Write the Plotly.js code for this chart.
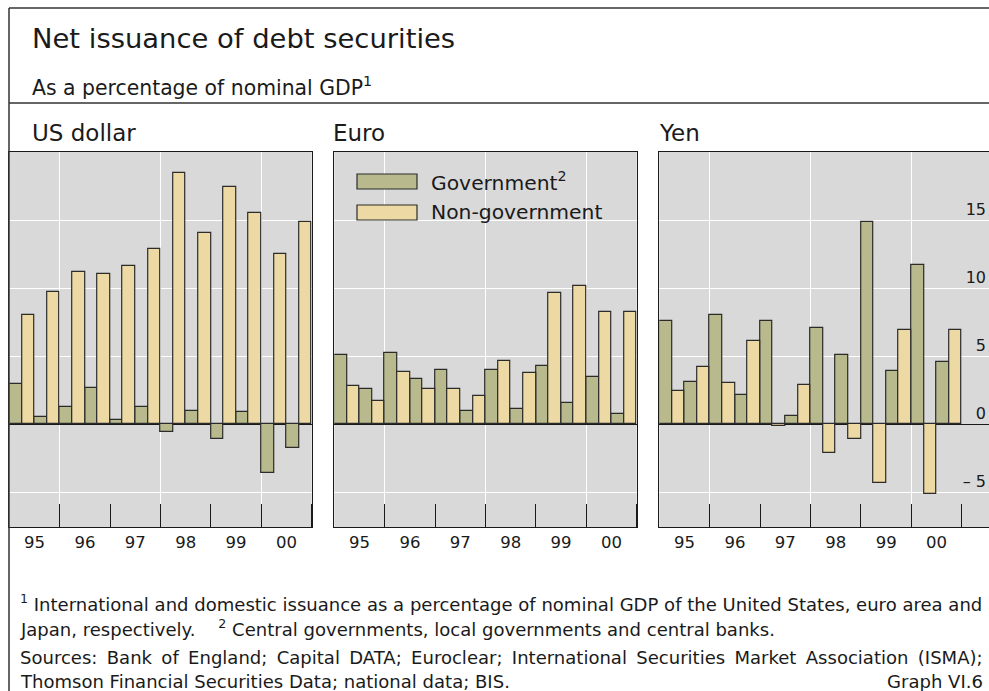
<!DOCTYPE html>
<html>
<head>
<meta charset="utf-8">
<script src="https://cdn.plot.ly/plotly-3.0.1.min.js"></script>
<style>
html, body { margin: 0; padding: 0; background: #ffffff; }
#chart { width: 989px; height: 691px; }
</style>
</head>
<body>
<div id="chart"></div>
<script>
// ---------- data ----------
const halfYears = ['1995 H1','1995 H2','1996 H1','1996 H2','1997 H1','1997 H2',
                   '1998 H1','1998 H2','1999 H1','1999 H2','2000 H1','2000 H2'];
const yearLabels = ['95','96','97','98','99','00'];

const usGov      = [2.94, 0.56, 1.25, 2.69, 0.34, 1.25, -0.54, 0.95, -1.08, 0.91, -3.55, -1.76];
const usNonGov   = [8.05, 9.72, 11.18, 11.01, 11.65, 12.90, 18.48, 14.02, 17.40, 15.49, 12.48, 14.86];
const euroGov    = [5.07, 2.62, 5.24, 3.30, 3.99, 1.00, 3.99, 1.15, 4.28, 1.54, 3.50, 0.76];
const euroNonGov = [2.81, 1.74, 3.82, 2.57, 2.62, 2.10, 4.63, 3.74, 9.64, 10.13, 8.25, 8.27];
const yenGov     = [7.56, 3.13, 8.05, 2.18, 7.56, 0.64, 7.05, 5.07, 14.86, 3.94, 11.72, 4.60];
const yenNonGov  = [2.47, 4.23, 3.06, 6.09, -0.15, 2.91, -2.10, -1.05, -4.28, 6.95, -5.09, 6.93];

const yTickVals = [-5, 0, 5, 10, 15];
const yTickText = ['\u2013 5', '0', '5', '10', '15'];

const seriesNames = ['Government<sup>2</sup>', 'Non-government'];
const panelTitles = ['US dollar', 'Euro', 'Yen'];

// ---------- styling ----------
const W = 989, H = 691;
const FONT = 'DejaVu Sans, Liberation Sans, Arial, sans-serif';
const GOV_COLOR = '#b8ba8e';
const NONGOV_COLOR = '#ecd9a3';
const BG = '#d9d9d9';
const INK = '#1a1a1a';

const px = v => v / W;          // x pixel -> paper
const py = v => 1 - v / H;      // y pixel -> paper

const xPos = halfYears.map((_, i) => i);
const yearCenters = yearLabels.map((_, i) => 2 * i + 0.5);
const yearBounds = yearLabels.map((_, i) => 2 * i + 1.5);
const gridBounds = yearBounds.filter((_, i) => i % 2 === 0);

const yRange = [-7.53, 20];
const xRange = [-0.5, 11.5];
const xRangeYen = [-0.5, 12.58];

const panels = [
  { gov: usGov,   non: usNonGov,   x: 'x',  y: 'y'  },
  { gov: euroGov, non: euroNonGov, x: 'x2', y: 'y2' },
  { gov: yenGov,  non: yenNonGov,  x: 'x3', y: 'y3' }
];

const traces = [];
panels.forEach(p => {
  [[p.gov, GOV_COLOR, seriesNames[0]], [p.non, NONGOV_COLOR, seriesNames[1]]].forEach(([vals, col, name]) => {
    traces.push({
      type: 'bar', x: xPos, y: vals, name: name, xaxis: p.x, yaxis: p.y,
      text: halfYears, hovertemplate: '%{text}: %{y:.1f}<extra></extra>', textposition: 'none',
      marker: { color: col, line: { color: '#2b2b2b', width: 1.2 } },
      showlegend: false
    });
  });
});
// empty helper traces for overlay axes (grid lines / right-hand labels)
[['x4','y'],['x5','y2'],['x6','y3'],['x3','y4']].forEach(([xa, ya]) => {
  traces.push({ type: 'scatter', x: [], y: [], xaxis: xa, yaxis: ya, showlegend: false, hoverinfo: 'skip' });
});

function mainX(domain, range) {
  return {
    domain: domain, range: range, fixedrange: true,
    tickmode: 'array', tickvals: yearCenters, ticktext: yearLabels,
    ticks: '', showgrid: false, zeroline: false,
    showline: true, mirror: true, linecolor: INK, linewidth: 1.2,
    tickfont: { family: FONT, size: 16.5, color: INK },
    minor: { tickmode: 'array', tickvals: yearBounds, ticks: 'inside', ticklen: 23,
             tickwidth: 1.3, tickcolor: INK, showgrid: false }
  };
}
function gridX(over, anchor, range) {
  return {
    overlaying: over, anchor: anchor, range: range, fixedrange: true,
    tickmode: 'array', tickvals: gridBounds, showticklabels: false, ticks: '',
    showgrid: true, gridcolor: '#ffffff', gridwidth: 1.3, zeroline: false, showline: false
  };
}
function mainY(anchor, mirror) {
  return {
    anchor: anchor, domain: [py(527), py(152)], range: yRange, fixedrange: true,
    tickmode: 'array', tickvals: yTickVals, showticklabels: false, ticks: '',
    showgrid: true, gridcolor: '#ffffff', gridwidth: 1.3,
    zeroline: true, zerolinecolor: INK, zerolinewidth: 1.3,
    showline: true, mirror: mirror, linecolor: INK, linewidth: 1.2
  };
}

const TS = '\u2009 ';  // slightly widened word gap for the justified sources line

const layout = {
  width: W, height: H,
  margin: { l: 0, r: 0, t: 0, b: 0, pad: 0 },
  paper_bgcolor: '#ffffff', plot_bgcolor: BG,
  font: { family: FONT, color: INK },
  barmode: 'group', bargap: 0, bargroupgap: 0,
  showlegend: false,
  xaxis:  Object.assign(mainX([px(9.3), px(311.7)], xRange), { anchor: 'y' }),
  xaxis2: Object.assign(mainX([px(334.3), px(636.7)], xRange), { anchor: 'y2' }),
  xaxis3: Object.assign(mainX([px(659.3), 1], xRangeYen), { anchor: 'y3' }),
  xaxis4: gridX('x', 'y', xRange),
  xaxis5: gridX('x2', 'y2', xRange),
  xaxis6: gridX('x3', 'y3', xRangeYen),
  yaxis:  mainY('x', true),
  yaxis2: mainY('x2', true),
  yaxis3: mainY('x3', false),
  yaxis4: {
    overlaying: 'y3', anchor: 'x3', side: 'right', range: yRange, fixedrange: true,
    tickmode: 'array', tickvals: yTickVals, ticktext: yTickText,
    ticklabelposition: 'inside top', ticks: '', showgrid: false, zeroline: false, showline: false,
    tickfont: { family: FONT, size: 16, color: INK }
  },
  shapes: [
    // frame lines
    { type: 'line', xref: 'paper', yref: 'paper', x0: px(9), x1: 1, y0: py(8), y1: py(8), line: { color: '#333', width: 1.5 } },
    { type: 'line', xref: 'paper', yref: 'paper', x0: px(9), x1: 1, y0: py(103), y1: py(103), line: { color: '#333', width: 1.5 } },
    { type: 'line', xref: 'paper', yref: 'paper', x0: px(9), x1: px(9), y0: py(8), y1: 0, line: { color: '#333', width: 1.5 } },
    // legend swatches
    { type: 'rect', xref: 'paper', yref: 'paper', x0: px(357), x1: px(417), y0: py(189), y1: py(174), fillcolor: GOV_COLOR, line: { color: '#2b2b2b', width: 1.2 } },
    { type: 'rect', xref: 'paper', yref: 'paper', x0: px(357), x1: px(417), y0: py(220), y1: py(205), fillcolor: NONGOV_COLOR, line: { color: '#2b2b2b', width: 1.2 } }
  ],
  annotations: [
    { text: 'Net issuance of debt securities', x: px(30), y: py(38), font: { size: 27.4 } },
    { text: 'As a percentage of nominal GDP<sup>1</sup>', x: px(30), y: py(86), font: { size: 20.4 } },
    { text: panelTitles[0], x: px(30), y: py(133), font: { size: 23 } },
    { text: panelTitles[1], x: px(331), y: py(133), font: { size: 23 } },
    { text: panelTitles[2], x: px(657), y: py(133), font: { size: 23 } },
    { text: seriesNames[0], x: px(429), y: py(181), font: { size: 20.3 } },
    { text: seriesNames[1], x: px(429), y: py(212), font: { size: 20.3 } },
    { text: '<sup>1</sup> International and domestic issuance as a percentage of nominal GDP of the United States, euro area and', x: px(18), y: py(603), font: { size: 18.05 } },
    { text: 'Japan, respectively.\u00a0\u00a0\u00a0 <sup>2</sup> Central governments, local governments and central banks.', x: px(18), y: py(628), font: { size: 18.05 } },
    { text: ['Sources:', 'Bank', 'of', 'England;', 'Capital', 'DATA;', 'Euroclear;', 'International', 'Securities', 'Market', 'Association', '(ISMA);'].join(TS), x: px(18), y: py(657), font: { size: 18.05 } },
    { text: 'Thomson Financial Securities Data; national data; BIS.', x: px(18), y: py(681), font: { size: 18.05 } },
    { text: 'Graph VI.6', x: px(985), y: py(681), xanchor: 'right', font: { size: 18.05 } }
  ].map(a => Object.assign({ xref: 'paper', yref: 'paper', xanchor: 'left', yanchor: 'middle', showarrow: false, align: 'left' }, a, { font: Object.assign({ family: FONT, color: INK }, a.font) }))
};

Plotly.newPlot('chart', traces, layout, { displayModeBar: false, responsive: false });
</script>
</body>
</html>
